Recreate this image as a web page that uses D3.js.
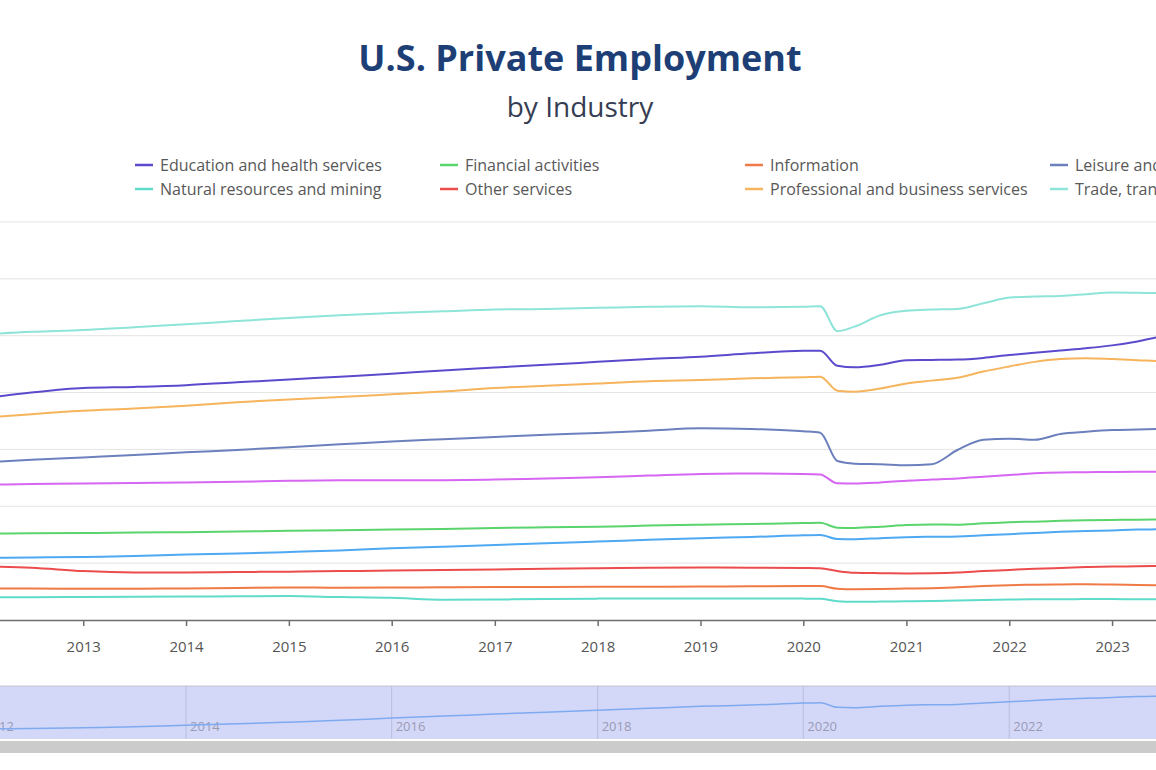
<!DOCTYPE html>
<html>
<head>
<meta charset="utf-8">
<script src="https://cdn.jsdelivr.net/npm/d3@7.9.0/dist/d3.min.js"></script>
<style>
  html, body { margin: 0; padding: 0; background: #fff; overflow: hidden; }
  svg { display: block; font-family: "Open Sans", "Noto Sans", sans-serif; }
</style>
</head>
<body>
<svg id="chart" width="1156" height="770"></svg>
<script>
// monthly sample points (employment in millions)
const months = ["2012-01","2012-07","2013-01","2013-07","2014-01","2014-07","2015-01","2015-07",
  "2016-01","2016-07","2017-01","2017-07","2018-01","2018-07","2019-01","2019-07","2020-01",
  "2020-03","2020-05","2020-07","2020-10","2021-01","2021-04","2021-07","2021-10","2022-01",
  "2022-04","2022-07","2022-10","2023-01","2023-04","2023-07","2023-10"];

const education = [19.45,20.0,20.4,20.5,20.65,20.9,21.15,21.4,21.65,21.95,22.2,22.45,22.7,22.95,23.15,23.45,23.68,
  23.68,22.36,22.22,22.45,22.85,22.87,22.9,23.05,23.3,23.5,23.7,23.9,24.15,24.5,24.95,25.2];
const financial = [7.6,7.62,7.65,7.7,7.72,7.78,7.85,7.9,7.95,8.0,8.1,8.15,8.2,8.3,8.38,8.45,8.52,
  8.55,8.12,8.1,8.2,8.35,8.4,8.38,8.5,8.6,8.65,8.72,8.78,8.8,8.82,8.85,8.86];
const information = [2.78,2.76,2.75,2.74,2.78,2.82,2.86,2.84,2.85,2.88,2.9,2.9,2.92,2.93,2.94,2.96,2.98,
  2.98,2.75,2.7,2.72,2.76,2.8,2.88,2.98,3.06,3.1,3.13,3.14,3.12,3.08,3.05,3.03];
const leisure = [13.85,14.1,14.3,14.5,14.75,14.95,15.2,15.45,15.7,15.9,16.1,16.3,16.45,16.65,16.86,16.8,16.6,
  16.47,13.98,13.75,13.7,13.6,13.7,14.95,15.85,15.95,15.85,16.35,16.55,16.7,16.75,16.8,16.85];
const manufacturing = [11.9,11.95,12.0,12.05,12.1,12.15,12.25,12.3,12.3,12.3,12.35,12.45,12.55,12.7,12.85,12.88,12.85,
  12.8,12.02,12.0,12.1,12.25,12.35,12.45,12.6,12.75,12.9,12.98,13.0,13.02,13.03,13.03,13.03];
const naturalResources = [2.0,2.0,2.02,2.04,2.06,2.08,2.1,2.02,1.95,1.78,1.8,1.85,1.88,1.9,1.9,1.9,1.88,
  1.86,1.65,1.6,1.62,1.65,1.68,1.72,1.76,1.8,1.82,1.82,1.84,1.84,1.82,1.82,1.82];
const otherServices = [4.7,4.6,4.3,4.18,4.18,4.22,4.25,4.3,4.35,4.4,4.45,4.5,4.55,4.6,4.62,4.6,4.57,
  4.55,4.3,4.15,4.12,4.1,4.12,4.18,4.3,4.4,4.5,4.58,4.65,4.7,4.72,4.75,4.76];
const professional = [17.75,18.1,18.4,18.6,18.85,19.15,19.4,19.6,19.85,20.1,20.4,20.6,20.8,21.0,21.1,21.25,21.35,
  21.4,20.17,20.08,20.35,20.8,21.05,21.3,21.85,22.3,22.7,22.95,23.02,22.95,22.85,22.75,22.7];
const trade = [25.1,25.35,25.5,25.75,26.0,26.3,26.55,26.8,27.0,27.15,27.3,27.35,27.45,27.55,27.6,27.5,27.55,
  27.6,25.4,25.8,26.8,27.2,27.3,27.35,27.85,28.35,28.45,28.5,28.65,28.8,28.78,28.75,28.75];
const construction = [5.45,5.5,5.55,5.62,5.75,5.85,5.98,6.12,6.3,6.45,6.6,6.75,6.9,7.05,7.2,7.3,7.45,
  7.48,7.12,7.1,7.2,7.28,7.32,7.35,7.45,7.55,7.65,7.75,7.82,7.88,7.95,7.98,8.0];

const seriesNames = ["Education and health services","Financial activities","Information",
  "Leisure and hospitality","Manufacturing","Natural resources and mining","Other services",
  "Professional and business services","Trade, transportation, and utilities","Construction"];
const seriesValues = [education, financial, information, leisure, manufacturing,
  naturalResources, otherServices, professional, trade, construction];
const seriesColors = ["#5b4bcc","#5ad46c","#ef7a45","#6c80bd","#d766f2",
  "#5fdcc9","#ec4c4c","#f6b45c","#8ee4d8","#4ea8f2"];

const yTicks = [0, 5, 10, 15, 20, 25, 30, 35];

const W = 1156, H = 770;
const svg = d3.select('#chart');
const parse = d3.timeParse('%Y-%m');
const dates = months.map(parse);

// one year = ~103px, Jan 2013 sits at x=83 (the chart is wider than the window)
const yearPx = 102.9;
const x = d3.scaleTime()
  .domain([parse('2012-01'), parse('2024-01')])
  .range([83 - yearPx, 83 + 11 * yearPx]);
const y = d3.scaleLinear().domain([0, 35]).range([620, 222]);

// title
svg.append('text').attr('x', 580).attr('y', 71).attr('text-anchor', 'middle')
  .attr('font-size', 36).attr('font-weight', 700).attr('fill', '#1d3f75')
  .text('U.S. Private Employment');
svg.append('text').attr('x', 580).attr('y', 117).attr('text-anchor', 'middle')
  .attr('font-size', 28).attr('fill', '#363d52')
  .text('by Industry');

// legend, 2 rows x 5 columns; the 5th column falls outside the window
const legend = svg.append('g');
seriesNames.forEach((name, i) => {
  const col = i % 5, row = Math.floor(i / 5);
  const lx = 135 + col * 305;
  if (lx > W) return;
  const g = legend.append('g').attr('transform', `translate(${lx},${165 + row * 24})`);
  g.append('line').attr('x1', 0).attr('x2', 18).attr('y1', 0).attr('y2', 0)
    .attr('stroke', seriesColors[i]).attr('stroke-width', 2.5);
  g.append('text').attr('x', 25).attr('y', 5.5).attr('font-size', 16).attr('fill', '#585858')
    .text(name);
});

// grid
svg.append('g').selectAll('line').data(yTicks.filter(d => d > 0)).join('line')
  .attr('x1', 0).attr('x2', W).attr('y1', d => y(d)).attr('y2', d => y(d))
  .attr('stroke', '#e4e4e4').attr('stroke-width', 1);

// lines
const line = d3.line()
  .x((d, i) => x(dates[i]))
  .y(d => y(d))
  .curve(d3.curveMonotoneX);

svg.append('g').selectAll('path').data(seriesValues).join('path')
  .attr('d', d => line(d))
  .attr('fill', 'none')
  .attr('stroke', (d, i) => seriesColors[i])
  .attr('stroke-width', 2)
  .attr('stroke-linejoin', 'round');

// x axis, only the years that land inside the window
const yearTicks = d3.timeYear.every(1).range(parse('2012-01'), parse('2025-01'))
  .filter(d => x(d) > 20 && x(d) < W - 20);
const xAxis = svg.append('g').attr('transform', 'translate(0,620)')
  .call(d3.axisBottom(x).tickValues(yearTicks).tickFormat(d3.timeFormat('%Y'))
    .tickSize(6).tickSizeOuter(0));
xAxis.select('.domain').attr('stroke', '#6e6e6e').attr('stroke-width', 1.5);
xAxis.selectAll('.tick line').attr('stroke', '#6e6e6e').attr('stroke-width', 1.5);
xAxis.selectAll('.tick text').attr('y', 21).attr('font-size', 15).attr('fill', '#555')
  .attr('font-family', '"Open Sans", sans-serif');

// data zoom slider
const sTop = 686, sBot = 739;
const slider = svg.append('g');
slider.append('rect').attr('x', -10).attr('y', sTop).attr('width', W + 20).attr('height', sBot - sTop)
  .attr('fill', '#d4d8f8');
slider.append('line').attr('x1', 0).attr('x2', W).attr('y1', sTop).attr('y2', sTop)
  .attr('stroke', '#c4c6d0').attr('stroke-width', 1);
const evenYears = d3.timeYear.every(2).range(parse('2012-01'), parse('2024-01'));
slider.selectAll('.sgrid').data(evenYears).join('line')
  .attr('x1', d => x(d)).attr('x2', d => x(d)).attr('y1', sTop).attr('y2', sBot)
  .attr('stroke', '#b9bddc').attr('stroke-width', 1);
slider.selectAll('.slabel').data(evenYears).join('text')
  .attr('x', d => x(d) + 4).attr('y', 731).attr('font-size', 13).attr('fill', '#9a9ab4')
  .text(d3.timeFormat('%Y'));

// shadow of the construction series, padded by 30% like the echarts slider
const ext = d3.extent(construction);
const pad = (ext[1] - ext[0]) * 0.3;
const ys = d3.scaleLinear().domain([ext[0] - pad, ext[1] + pad]).range([sBot, sTop]);
slider.append('path')
  .attr('d', d3.line().x((d, i) => x(dates[i])).y(d => ys(d)).curve(d3.curveMonotoneX)(construction))
  .attr('fill', 'none').attr('stroke', '#7eaaf0').attr('stroke-width', 1.5);

slider.append('rect').attr('x', -10).attr('y', 741).attr('width', W + 20).attr('height', 12)
  .attr('fill', '#cbcbcb');
</script>
</body>
</html>
